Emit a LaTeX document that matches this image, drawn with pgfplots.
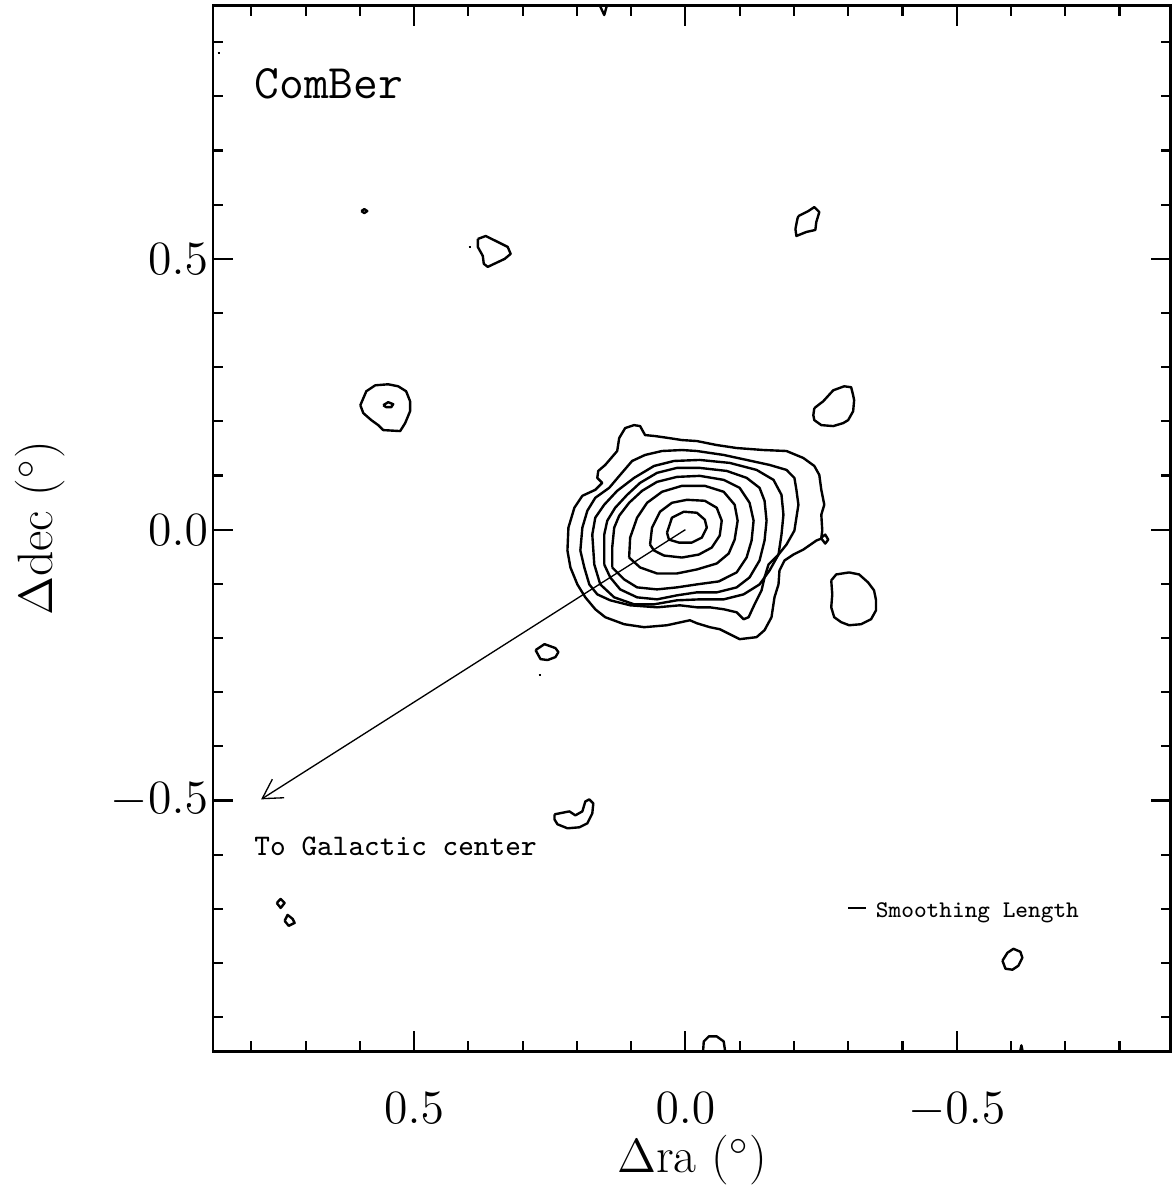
\documentclass[border=0pt]{standalone}
\usepackage{pgfplots}
\pgfplotsset{compat=1.18}
\usetikzlibrary{arrows.meta}
\begin{document}
\begin{tikzpicture}
\pgfplotsset{ctr/.style={black, line width=0.72pt, mark=none, line join=round}}
\begin{axis}[
  scale only axis,
  width=288.6pt, height=315.1pt,
  x dir=reverse,
  xmin=-0.8945, xmax=0.8706,
  ymin=-0.9632, ymax=0.9675,
  axis line style={line width=0.85pt},
  every tick/.style={black, line width=0.65pt},
  major tick length=6pt, minor tick length=3pt,
  xtick={-0.5,0,0.5}, ytick={-0.5,0,0.5},
  minor xtick={-0.8,-0.7,-0.6,-0.4,-0.3,-0.2,-0.1,0.1,0.2,0.3,0.4,0.6,0.7,0.8},
  minor ytick={-0.9,-0.8,-0.7,-0.6,-0.4,-0.3,-0.2,-0.1,0.1,0.2,0.3,0.4,0.6,0.7,0.8,0.9},
  tick pos=both,
  tick align=inside,
  /pgf/number format/.cd, fixed, fixed zerofill, precision=1,
  /pgfplots/.cd,
  ticklabel style={font=\fontsize{15}{18}\selectfont},
  xticklabel style={yshift=-9pt},
  yticklabel style={xshift=2pt},
  xlabel={$\Delta$ra ($^{\circ}$)},
  ylabel={$\Delta$dec ($^{\circ}$)},
  label style={font=\fontsize{15}{18}\selectfont},
  xlabel style={at={(axis description cs:0.5,-0.104)}, anchor=center},
  ylabel style={at={(axis description cs:-0.181,0.5)}, anchor=center},
]
% contour 1 (outermost)
\addplot[ctr] coordinates {
(0.2174,-0.0386)(0.2156,0.0037)(0.2046,0.0404)(0.1899,0.0625)(0.1661,0.0735)(0.1532,0.0864)(0.1624,0.0956)(0.1606,0.1084)(0.1477,0.1195)(0.1257,0.1452)(0.1220,0.1691)(0.1110,0.1875)(0.0945,0.1930)(0.0835,0.1912)(0.0743,0.1746)(0.0560,0.1728)(0.0303,0.1691)(0.0064,0.1654)(-0.0211,0.1636)(-0.0578,0.1562)(-0.0945,0.1507)(-0.1440,0.1470)(-0.1863,0.1452)(-0.2174,0.1323)(-0.2376,0.1176)(-0.2468,0.1011)(-0.2505,0.0735)(-0.2560,0.0460)(-0.2505,0.0276)(-0.2523,-0.0018)(-0.2505,-0.0147)(-0.2578,-0.0092)(-0.2633,-0.0184)(-0.2578,-0.0257)(-0.2505,-0.0165)(-0.2413,-0.0202)(-0.2174,-0.0368)(-0.1991,-0.0460)(-0.1826,-0.0570)(-0.1734,-0.0754)(-0.1716,-0.1011)(-0.1642,-0.1250)(-0.1587,-0.1617)(-0.1459,-0.1856)(-0.1312,-0.1985)(-0.1000,-0.2022)(-0.0817,-0.1930)(-0.0633,-0.1838)(-0.0450,-0.1801)(-0.0211,-0.1728)(-0.0083,-0.1673)(0.0339,-0.1765)(0.0762,-0.1801)(0.1129,-0.1746)(0.1477,-0.1617)(0.1661,-0.1470)(0.1844,-0.1250)(0.1991,-0.1011)(0.2119,-0.0698)(0.2174,-0.0386)};
% contour 2
\addplot[ctr] coordinates {
(0.1936,-0.0386)(0.1899,0.0037)(0.1807,0.0349)(0.1661,0.0588)(0.1404,0.0772)(0.1202,0.1011)(0.0982,0.1268)(0.0743,0.1379)(0.0431,0.1452)(0.0064,0.1470)(-0.0211,0.1452)(-0.0706,0.1379)(-0.1129,0.1287)(-0.1551,0.1195)(-0.1863,0.1103)(-0.2009,0.0956)(-0.2046,0.0735)(-0.2083,0.0460)(-0.2046,0.0221)(-0.2009,-0.0018)(-0.1863,-0.0276)(-0.1716,-0.0460)(-0.1532,-0.0643)(-0.1459,-0.0882)(-0.1404,-0.1121)(-0.1275,-0.1379)(-0.1165,-0.1617)(-0.1073,-0.1654)(-0.0945,-0.1526)(-0.0706,-0.1470)(-0.0450,-0.1434)(-0.0211,-0.1434)(0.0101,-0.1397)(0.0523,-0.1434)(0.1018,-0.1397)(0.1385,-0.1305)(0.1624,-0.1195)(0.1771,-0.1011)(0.1863,-0.0698)(0.1936,-0.0386)};
% contour 3
\addplot[ctr] coordinates {
(0.1679,-0.0643)(0.1716,-0.0092)(0.1661,0.0221)(0.1496,0.0460)(0.1257,0.0717)(0.0945,0.0956)(0.0578,0.1176)(0.0211,0.1268)(-0.0266,0.1287)(-0.0817,0.1232)(-0.1312,0.1103)(-0.1624,0.0919)(-0.1771,0.0643)(-0.1807,0.0276)(-0.1771,-0.0092)(-0.1716,-0.0460)(-0.1551,-0.0754)(-0.1367,-0.1011)(-0.1073,-0.1195)(-0.0706,-0.1287)(-0.0266,-0.1287)(0.0156,-0.1305)(0.0578,-0.1379)(0.0945,-0.1379)(0.1312,-0.1250)(0.1569,-0.1011)(0.1679,-0.0643)};
% contour 4
\addplot[ctr] coordinates {
(0.1496,-0.0643)(0.1496,-0.0092)(0.1440,0.0165)(0.1294,0.0404)(0.1073,0.0643)(0.0835,0.0864)(0.0523,0.1048)(0.0156,0.1140)(-0.0266,0.1140)(-0.0762,0.1084)(-0.1129,0.0956)(-0.1367,0.0772)(-0.1459,0.0533)(-0.1496,0.0165)(-0.1459,-0.0202)(-0.1367,-0.0570)(-0.1183,-0.0882)(-0.0945,-0.1066)(-0.0578,-0.1158)(-0.0211,-0.1158)(0.0156,-0.1213)(0.0523,-0.1287)(0.0890,-0.1250)(0.1202,-0.1103)(0.1385,-0.0882)(0.1496,-0.0643)};
% contour 5
\addplot[ctr] coordinates {
(0.1349,-0.0698)(0.1349,-0.0331)(0.1312,0.0037)(0.1220,0.0257)(0.1037,0.0496)(0.0798,0.0717)(0.0523,0.0882)(0.0156,0.0974)(-0.0266,0.0993)(-0.0706,0.0919)(-0.1000,0.0772)(-0.1183,0.0496)(-0.1257,0.0165)(-0.1220,-0.0202)(-0.1128,-0.0515)(-0.0945,-0.0790)(-0.0615,-0.0956)(-0.0211,-0.1011)(0.0156,-0.1066)(0.0523,-0.1103)(0.0890,-0.1066)(0.1128,-0.0919)(0.1349,-0.0698)};
% contour 6
\addplot[ctr] coordinates {
(0.1037,-0.0515)(0.1018,-0.0147)(0.0890,0.0221)(0.0706,0.0496)(0.0431,0.0699)(0.0064,0.0809)(-0.0358,0.0809)(-0.0706,0.0699)(-0.0908,0.0460)(-0.0963,0.0165)(-0.0908,-0.0184)(-0.0798,-0.0441)(-0.0578,-0.0625)(-0.0211,-0.0735)(0.0156,-0.0809)(0.0523,-0.0809)(0.0835,-0.0698)(0.1037,-0.0515)};
% contour 7
\addplot[ctr] coordinates {
(0.0651,-0.0276)(0.0615,0.0037)(0.0468,0.0331)(0.0248,0.0496)(-0.0028,0.0551)(-0.0358,0.0533)(-0.0578,0.0404)(-0.0670,0.0165)(-0.0633,-0.0110)(-0.0486,-0.0331)(-0.0248,-0.0460)(0.0064,-0.0515)(0.0395,-0.0478)(0.0578,-0.0386)(0.0651,-0.0276)};
% contour 8 (innermost)
\addplot[ctr] coordinates {
(0.0339,-0.0055)(0.0248,0.0221)(0.0028,0.0331)(-0.0211,0.0312)(-0.0358,0.0184)(-0.0395,0.0037)(-0.0303,-0.0147)(-0.0119,-0.0239)(0.0119,-0.0239)(0.0303,-0.0184)(0.0339,-0.0055)};
% small features
\addplot[ctr] coordinates {(0.5973,0.5882)(0.5918,0.5919)(0.5863,0.5882)(0.5918,0.5845)(0.5973,0.5882)};
\addplot[ctr] coordinates {(0.3826,0.5367)(0.3679,0.5422)(0.3459,0.5312)(0.3275,0.5220)(0.3220,0.5091)(0.3331,0.4999)(0.3642,0.4852)(0.3716,0.4908)(0.3734,0.5054)(0.3826,0.5220)(0.3826,0.5367)};
\addplot[ctr] coordinates {(0.3995,0.5220)(0.3955,0.5220)};
\addplot[ctr] coordinates {(0.8620,0.8804)(0.8570,0.8804)};
\addplot[ctr] coordinates {(0.1587,0.9700)(0.1496,0.9502)(0.1440,0.9700)};
\addplot[ctr] coordinates {(-0.2083,0.5790)(-0.2266,0.5882)(-0.2376,0.5955)(-0.2468,0.5863)(-0.2413,0.5680)(-0.2395,0.5533)(-0.2229,0.5496)(-0.2046,0.5422)(-0.2028,0.5551)(-0.2064,0.5735)(-0.2083,0.5790)};
\addplot[ctr] coordinates {(-0.2376,0.2243)(-0.2541,0.2371)(-0.2725,0.2573)(-0.2927,0.2647)(-0.3055,0.2629)(-0.3092,0.2481)(-0.3110,0.2390)(-0.3092,0.2187)(-0.3000,0.2022)(-0.2908,0.1967)(-0.2725,0.1912)(-0.2505,0.1930)(-0.2376,0.2022)(-0.2358,0.2114)(-0.2376,0.2243)};
\addplot[ctr] coordinates {(0.5991,0.2298)(0.5881,0.2555)(0.5716,0.2665)(0.5477,0.2684)(0.5294,0.2647)(0.5147,0.2555)(0.5074,0.2371)(0.5074,0.2187)(0.5165,0.1967)(0.5257,0.1820)(0.5569,0.1838)(0.5661,0.1930)(0.5789,0.2022)(0.5936,0.2151)(0.5991,0.2298)};
\addplot[ctr] coordinates {(0.5569,0.2298)(0.5477,0.2353)(0.5385,0.2316)(0.5422,0.2261)(0.5514,0.2261)(0.5569,0.2298)};
\addplot[ctr] coordinates {(-0.2688,-0.0937)(-0.2780,-0.0827)(-0.3018,-0.0790)(-0.3202,-0.0827)(-0.3367,-0.0974)(-0.3477,-0.1121)(-0.3514,-0.1305)(-0.3514,-0.1489)(-0.3422,-0.1654)(-0.3239,-0.1746)(-0.3018,-0.1765)(-0.2872,-0.1709)(-0.2743,-0.1617)(-0.2688,-0.1434)(-0.2707,-0.1195)(-0.2688,-0.0937)};
\addplot[ctr] coordinates {(0.2762,-0.2224)(0.2597,-0.2114)(0.2395,-0.2187)(0.2340,-0.2261)(0.2395,-0.2353)(0.2541,-0.2408)(0.2670,-0.2390)(0.2762,-0.2224)};
\addplot[ctr] coordinates {(0.2705,-0.2684)(0.2670,-0.2684)};
\addplot[ctr] coordinates {(0.2413,-0.5257)(0.2138,-0.5202)(0.2028,-0.5275)(0.1899,-0.5202)(0.1844,-0.5018)(0.1771,-0.4981)(0.1697,-0.5055)(0.1716,-0.5238)(0.1807,-0.5422)(0.1954,-0.5496)(0.2174,-0.5514)(0.2358,-0.5440)(0.2413,-0.5349)(0.2413,-0.5257)};
\addplot[ctr] coordinates {(0.7532,-0.6893)(0.7459,-0.6819)(0.7386,-0.6893)(0.7459,-0.6984)(0.7532,-0.6893)};
\addplot[ctr] coordinates {(0.7386,-0.7223)(0.7331,-0.7113)(0.7239,-0.7187)(0.7202,-0.7260)(0.7312,-0.7315)(0.7386,-0.7223)};
\addplot[ctr] coordinates {(-0.5844,-0.7959)(-0.5936,-0.7812)(-0.6046,-0.7739)(-0.6174,-0.7794)(-0.6211,-0.7904)(-0.6138,-0.8051)(-0.6028,-0.8125)(-0.5899,-0.8107)(-0.5844,-0.7959)};
\addplot[ctr] coordinates {(-0.0321,-0.9700)(-0.0339,-0.9449)(-0.0431,-0.9357)(-0.0578,-0.9357)(-0.0706,-0.9449)(-0.0743,-0.9700)};
\addplot[ctr] coordinates {(-0.6156,-0.9700)(-0.6193,-0.9522)(-0.6229,-0.9700)};
% annotations
\draw[line width=0.4pt, -{Straight Barb[length=5.7pt,width=6.6pt]}] (axis cs:0,0) -- (axis cs:0.782,-0.498);
\node[anchor=base west, inner sep=0pt, font=\fontsize{14.5}{17}\selectfont\ttfamily] at (axis cs:0.7954,0.796) {ComBer};
\node[anchor=base west, inner sep=0pt, font=\fontsize{9}{11}\selectfont\ttfamily] at (axis cs:0.7954,-0.6017) {To Galactic center};
\draw[line width=0.6pt] (axis cs:-0.300,-0.6985) -- (axis cs:-0.333,-0.6985);
\node[anchor=base west, inner sep=0pt, font=\fontsize{7.2}{9}\selectfont\ttfamily] at (axis cs:-0.350,-0.716) {Smoothing Length};
\end{axis}
\path (current axis.south west) ++(-64.2pt,-42pt) rectangle ([shift={(0.6pt,1.7pt)}]current axis.north east);
\end{tikzpicture}
\end{document}
